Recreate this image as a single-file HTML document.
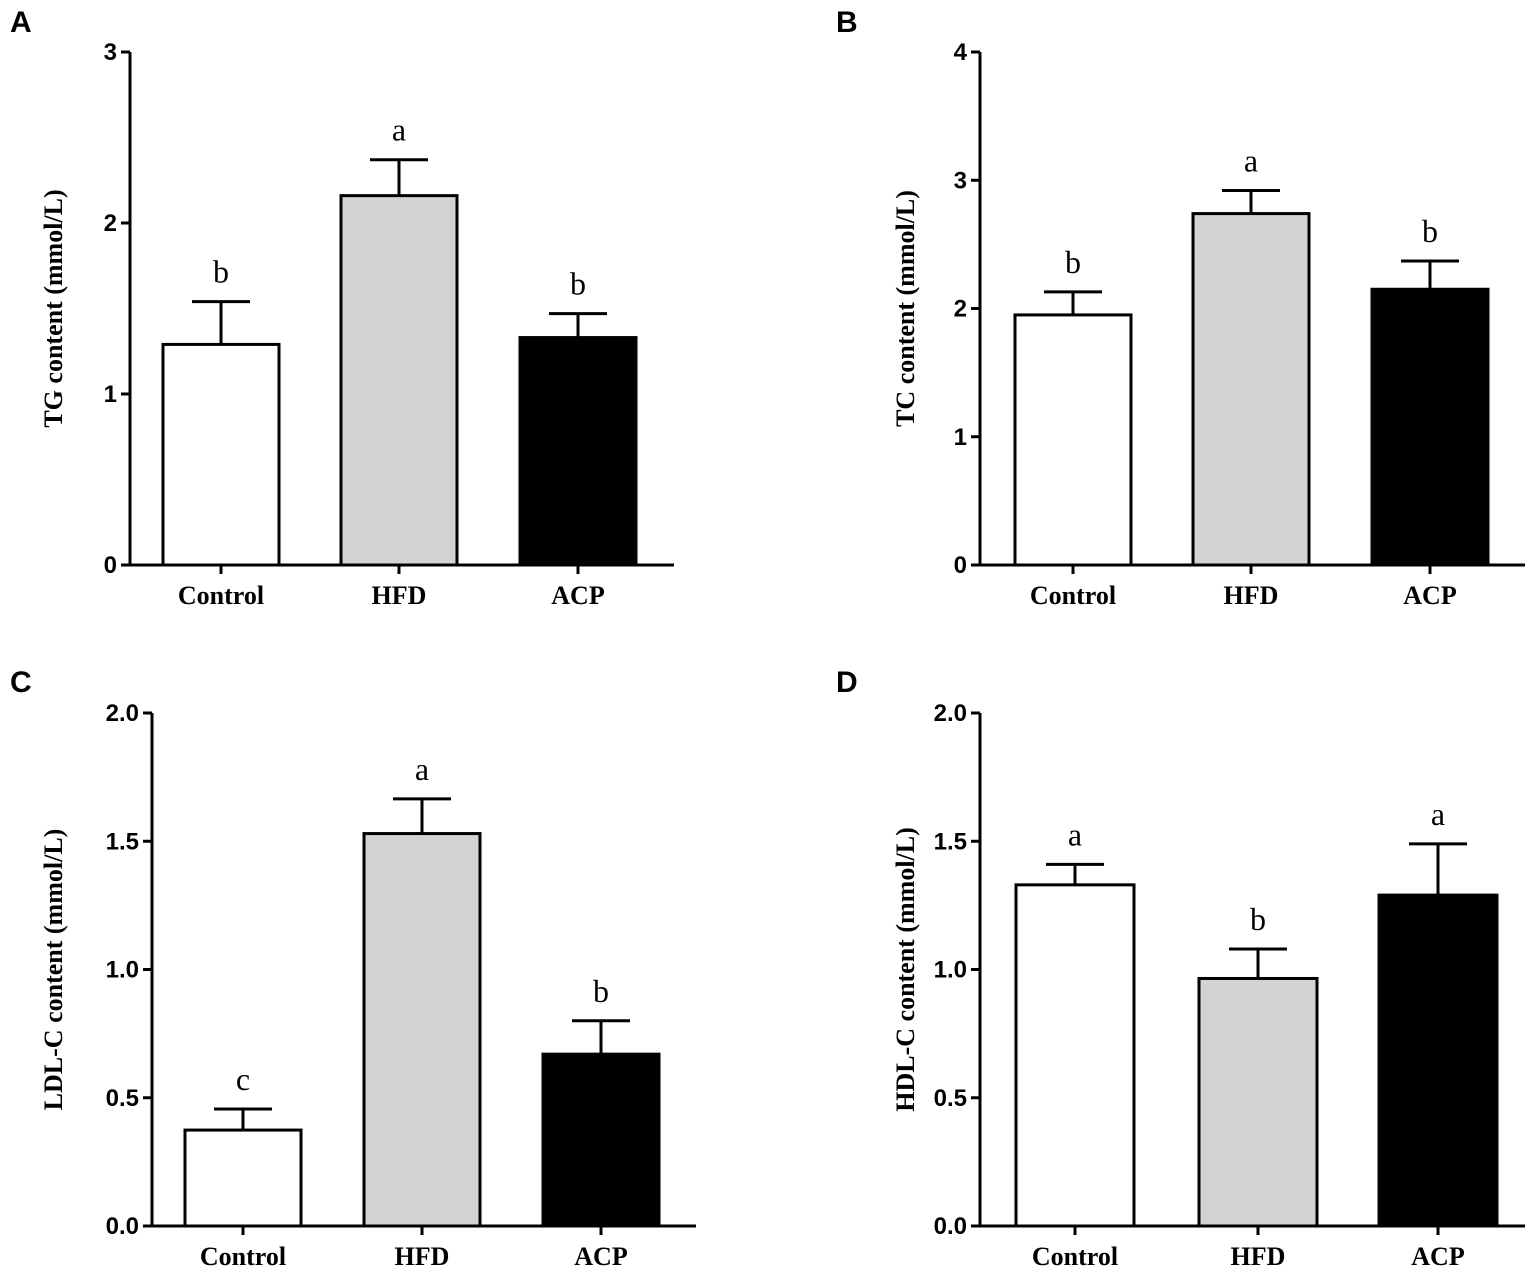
<!DOCTYPE html>
<html><head><meta charset="utf-8"><style>
body{margin:0;background:#fff;}
svg{display:block;}
.tick{font-family:"Liberation Sans",sans-serif;font-weight:bold;font-size:24px;}
.cat{font-family:"Liberation Serif",serif;font-weight:bold;font-size:26px;}
.ylab{font-family:"Liberation Serif",serif;font-weight:bold;font-size:26px;}
.let{font-family:"Liberation Serif",serif;font-size:32px;}
.pl{font-family:"Liberation Sans",sans-serif;font-weight:bold;font-size:30px;}
</style></head><body>
<svg id="fig" width="1535" height="1272" xmlns="http://www.w3.org/2000/svg"></svg>
<script>
const categories = ["Control","HFD","ACP"];
const tgValues = [1.29, 2.16, 1.33];
const tgErrors = [0.25, 0.21, 0.14];
const tgLetters = ["b","a","b"];
const tcValues = [1.95, 2.74, 2.15];
const tcErrors = [0.18, 0.18, 0.22];
const tcLetters = ["b","a","b"];
const ldlValues = [0.374, 1.53, 0.67];
const ldlErrors = [0.082, 0.135, 0.13];
const ldlLetters = ["c","a","b"];
const hdlValues = [1.33, 0.965, 1.29];
const hdlErrors = [0.08, 0.115, 0.2];
const hdlLetters = ["a","b","a"];
const tgTicks = ["0","1","2","3"];
const tcTicks = ["0","1","2","3","4"];
const ldlTicks = ["0.0","0.5","1.0","1.5","2.0"];
const hdlTicks = ["0.0","0.5","1.0","1.5","2.0"];
const fills = ["#ffffff","#d3d3d3","#000000"];

const NS="http://www.w3.org/2000/svg";
const svg=document.getElementById('fig');
function mk(tag,attrs,parent,text){const e=document.createElementNS(NS,tag);for(const k in attrs)e.setAttribute(k,attrs[k]);if(text!==undefined)e.textContent=text;(parent||svg).appendChild(e);return e;}

function panel(p){
  const g=mk('g',{});
  
  
  const max=parseFloat(p.ticks[p.ticks.length-1]);
  const y=v=>p.y0-(v/max)*(p.y0-p.yTop);
  const pl=mk('text',{x:p.labX,y:p.labY,class:'pl'},g,p.id);
  
  
  const ax=mk('line',{x1:p.ax,y1:p.yTop,x2:p.ax,y2:p.y0+1.5,stroke:'#000','stroke-width':3},g);
  
  
  p.ticks.forEach(t=>{
    const v=parseFloat(t),yy=y(v);
    mk('line',{x1:p.ax-9,y1:yy,x2:p.ax,y2:yy,stroke:'#000','stroke-width':3},g);
    const tl=mk('text',{x:p.ax-13,y:yy+8,'text-anchor':'end',class:'tick'},g,t);
    
    
  });
  const xa=mk('line',{x1:p.ax-9,y1:p.y0,x2:p.axEnd,y2:p.y0,stroke:'#000','stroke-width':3},g);
  
  
  const yl=mk('text',{x:0,y:0,transform:`translate(${p.ylx},${(p.y0+p.yTop)/2}) rotate(-90)`,'text-anchor':'middle',class:'ylab'},g,p.ylabel);
  
  
  categories.forEach((c,i)=>{
    const x0=p.barX[i], w=p.barW, cx=x0+w/2;
    const top=y(p.vals[i]), et=y(p.vals[i]+p.errs[i]);
    const el=mk('line',{x1:cx,y1:top,x2:cx,y2:et,stroke:'#000','stroke-width':3},g);
    
    
    mk('line',{x1:cx-29,y1:et,x2:cx+29,y2:et,stroke:'#000','stroke-width':3},g);
    const r=mk('rect',{x:x0,y:top,width:w,height:p.y0-top,fill:fills[i],stroke:'#000','stroke-width':3},g);
    
    
    const lt=mk('text',{x:cx,y:et-19,'text-anchor':'middle',class:'let'},g,p.letters[i]);
    
    
    mk('line',{x1:cx,y1:p.y0,x2:cx,y2:p.y0+9,stroke:'#000','stroke-width':3},g);
    const cl=mk('text',{x:cx,y:p.y0+39,'text-anchor':'middle',class:'cat'},g,c);
    
    
  });
}
panel({id:'A',labX:10,labY:32,ax:130,axEnd:674,yTop:52,y0:565,ticks:tgTicks,vals:tgValues,errs:tgErrors,letters:tgLetters,barX:[163,341,520],barW:116,ylx:62,ylabel:'TG content (mmol/L)'});
panel({id:'B',labX:836,labY:32,ax:980,axEnd:1525,yTop:52,y0:565,ticks:tcTicks,vals:tcValues,errs:tcErrors,letters:tcLetters,barX:[1015,1193,1372],barW:116,ylx:914,ylabel:'TC content (mmol/L)'});
panel({id:'C',labX:10,labY:692,ax:152,axEnd:696,yTop:713,y0:1226,ticks:ldlTicks,vals:ldlValues,errs:ldlErrors,letters:ldlLetters,barX:[185,364,543],barW:116,ylx:62,ylabel:'LDL-C content (mmol/L)'});
panel({id:'D',labX:836,labY:692,ax:980,axEnd:1525,yTop:713,y0:1226,ticks:hdlTicks,vals:hdlValues,errs:hdlErrors,letters:hdlLetters,barX:[1016,1199,1379],barW:118,ylx:914,ylabel:'HDL-C content (mmol/L)'});
</script>
</body></html>
